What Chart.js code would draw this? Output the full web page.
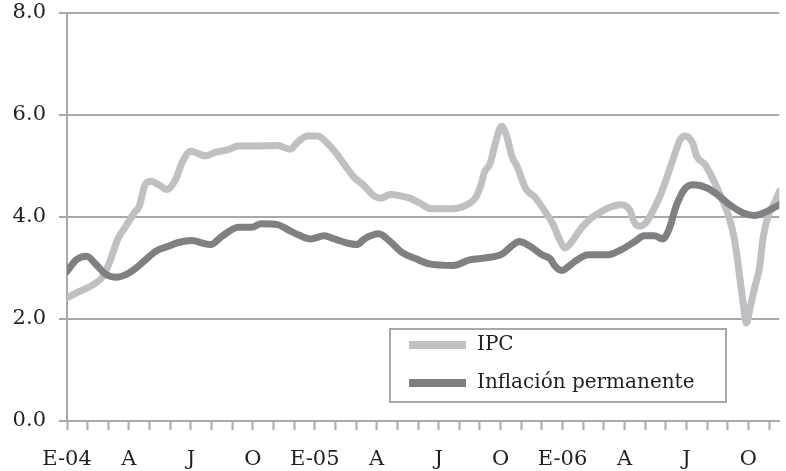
<!DOCTYPE html>
<html>
<head>
<meta charset="utf-8">
<script src="https://cdn.jsdelivr.net/npm/chart.js@4/dist/chart.umd.min.js"></script>
<style>
  html, body { margin: 0; padding: 0; background: #fff; }
  #caja { width: 786px; height: 471px; }
</style>
</head>
<body>
<div id="caja"><canvas id="grafico"></canvas></div>
<script>
// Etiquetas trimestrales del eje x (un tick por mes, etiqueta cada 3)
const etiquetasTrimestre = ["E-04", "A", "J", "O", "E-05", "A", "J", "O", "E-06", "A", "J", "O"];

// IPC: mes desde enero 2004 y variación anual (%)
const ipcMes = [0, 0.6, 1.25, 1.75, 2.05, 2.45, 2.85, 3.25, 3.5, 3.75, 4.05, 4.45, 4.85, 5.25, 5.6, 6,
  6.7, 7.2, 7.8, 8.3, 9.1, 10.2, 10.8, 11.2, 11.65, 12.15, 12.6, 13.1, 13.55, 13.95, 14.35, 14.85,
  15.2, 15.65, 16.1, 16.6, 17.1, 17.65, 18.5, 19.15, 19.8, 20.05, 20.2, 20.5, 20.75, 21.05, 21.3,
  21.55, 21.8, 22.2, 22.7, 23.15, 23.55, 23.9, 24.12, 24.45, 24.9, 25.4, 25.9, 26.35, 26.85, 27.25,
  27.5, 27.75, 28.1, 28.45, 28.75, 29.1, 29.4, 29.7, 29.95, 30.3, 30.5, 30.9, 31.3, 31.7, 32.05,
  32.3, 32.45, 32.6, 32.75, 32.9, 33.1, 33.3, 33.55, 33.7, 33.95, 34.3, 34.5];
const ipcValores = [2.42, 2.54, 2.67, 2.84, 3.10, 3.56, 3.82, 4.08, 4.21, 4.60, 4.70, 4.63, 4.54, 4.73, 5.09, 5.29,
  5.20, 5.27, 5.32, 5.39, 5.39, 5.40, 5.33, 5.48, 5.59, 5.59, 5.45, 5.22, 4.96, 4.76, 4.63, 4.42,
  4.37, 4.44, 4.42, 4.37, 4.27, 4.16, 4.16, 4.20, 4.39, 4.63, 4.86, 5.06, 5.45, 5.78, 5.58,
  5.19, 4.99, 4.57, 4.37, 4.11, 3.85, 3.52, 3.39, 3.52, 3.78, 3.98, 4.11, 4.20, 4.24, 4.14,
  3.88, 3.82, 3.92, 4.18, 4.44, 4.83, 5.19, 5.52, 5.59, 5.45, 5.19, 5.03, 4.73, 4.37, 4.01,
  3.62, 3.23, 2.77, 2.31, 1.92, 2.25, 2.61, 3.03, 3.56, 4.01, 4.31, 4.50];

// Inflación permanente
const permMes = [0, 0.45, 0.95, 1.4, 1.9, 2.4, 2.85, 3.35, 3.8, 4.3, 4.8, 5.4, 6.05, 6.55, 6.95, 7.5,
  8.3, 8.95, 9.4, 10.2, 10.7, 11.2, 11.8, 12.45, 12.95, 13.55, 14.05, 14.4, 15.1, 15.65, 16.2, 16.9,
  17.55, 18.7, 19.5, 20.3, 21.1, 21.5, 21.9, 22.45, 23, 23.4, 23.65, 23.95, 24.3, 24.6, 25.25, 26.2,
  26.85, 27.5, 27.95, 28.45, 28.85, 29.15, 29.5, 29.9, 30.35, 31, 31.5, 32.1, 32.75, 33.3, 33.9, 34.5];
const permValores = [2.93, 3.16, 3.23, 3.07, 2.87, 2.82, 2.87, 3.00, 3.16, 3.33, 3.41, 3.50, 3.54, 3.49, 3.46, 3.62,
  3.80, 3.80, 3.87, 3.85, 3.75, 3.65, 3.57, 3.63, 3.57, 3.49, 3.46, 3.57, 3.67, 3.52, 3.31, 3.18,
  3.08, 3.05, 3.16, 3.20, 3.28, 3.42, 3.52, 3.42, 3.26, 3.18, 3.03, 2.95, 3.03, 3.13, 3.26, 3.26,
  3.36, 3.52, 3.63, 3.63, 3.57, 3.75, 4.21, 4.54, 4.63, 4.57, 4.44, 4.24, 4.08, 4.03, 4.11, 4.24];

const colorEje = "#a9a9ac";
const colorTexto = "#231f20";

function puntos(xs, ys) {
  return xs.map((x, i) => ({ x: x, y: ys[i] }));
}

// Leyenda recuadrada dentro del área del gráfico
const leyendaCaja = {
  id: "leyendaCaja",
  afterDraw(chart) {
    const ctx = chart.ctx;
    const x = 390, y = 329, w = 336, h = 73;
    ctx.save();
    ctx.fillStyle = "#fff";
    ctx.fillRect(x, y, w, h);
    ctx.strokeStyle = colorEje;
    ctx.lineWidth = 2;
    ctx.strokeRect(x, y, w, h);
    ctx.font = "20px 'DejaVu Serif', serif";
    ctx.textBaseline = "middle";
    chart.data.datasets.forEach((ds, i) => {
      const cy = y + 16 + i * 38;
      ctx.strokeStyle = ds.borderColor;
      ctx.lineWidth = 8;
      ctx.lineCap = "butt";
      ctx.beginPath();
      ctx.moveTo(x + 19, cy);
      ctx.lineTo(x + 76, cy);
      ctx.stroke();
      ctx.fillStyle = colorTexto;
      ctx.fillText(ds.label, x + 87, cy);
    });
    ctx.restore();
  }
};

Chart.defaults.font.family = "'DejaVu Serif', serif";
Chart.defaults.font.size = 21;
Chart.defaults.color = colorTexto;

new Chart(document.getElementById("grafico"), {
  type: "line",
  data: {
    datasets: [
      {
        label: "IPC",
        data: puntos(ipcMes, ipcValores),
        borderColor: "#bfc0c3",
        borderWidth: 7,
        pointRadius: 0,
        cubicInterpolationMode: "monotone",
        borderJoinStyle: "round",
        borderCapStyle: "round",
        order: 2
      },
      {
        label: "Inflación permanente",
        data: puntos(permMes, permValores),
        borderColor: "#7f8083",
        borderWidth: 7,
        pointRadius: 0,
        cubicInterpolationMode: "monotone",
        borderJoinStyle: "round",
        borderCapStyle: "round",
        order: 1
      }
    ]
  },
  options: {
    responsive: true,
    maintainAspectRatio: false,
    animation: false,
    layout: { padding: 0 },
    plugins: {
      legend: { display: false },
      tooltip: { enabled: false }
    },
    scales: {
      x: {
        type: "linear",
        min: 0,
        max: 34.5,
        z: 1,
        afterFit: (s) => { s.height = 50; },
        border: { color: colorEje, width: 2 },
        grid: {
          drawOnChartArea: false,
          drawTicks: true,
          tickLength: 9,
          tickWidth: 2,
          tickColor: colorEje
        },
        ticks: {
          stepSize: 1,
          autoSkip: false,
          includeBounds: false,
          maxRotation: 0,
          padding: 17,
          callback: (v) => (v % 3 === 0 ? etiquetasTrimestre[v / 3] : "")
        }
      },
      y: {
        min: 0,
        max: 8,
        z: 1,
        afterFit: (s) => {
          s.width = 67;
          s.paddingTop = 13;
          s.paddingBottom = 0;
        },
        border: { color: colorEje, width: 2 },
        grid: {
          color: colorEje,
          lineWidth: 2,
          drawTicks: true,
          tickLength: 8
        },
        ticks: {
          stepSize: 2,
          padding: 13,
          callback: (v) => v.toFixed(1)
        }
      }
    }
  },
  plugins: [leyendaCaja]
});
</script>
</body>
</html>
